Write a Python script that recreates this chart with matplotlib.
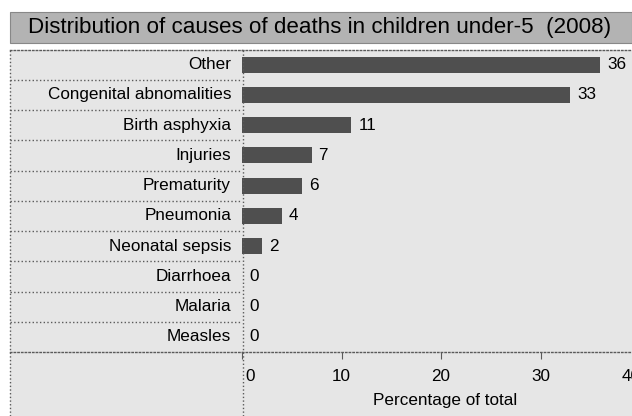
import matplotlib
matplotlib.use("Agg")
import matplotlib.pyplot as plt
import matplotlib.transforms as mtransforms
from matplotlib.patches import Rectangle
from matplotlib.lines import Line2D

causes = ["Other", "Congenital abnomalities", "Birth asphyxia", "Injuries",
          "Prematurity", "Pneumonia", "Neonatal sepsis", "Diarrhoea",
          "Malaria", "Measles"]
percent = [36, 33, 11, 7, 6, 4, 2, 0, 0, 0]
xticks = [0, 10, 20, 30, 40]

title = "Distribution of causes of deaths in children under-5  (2008)"
xlabel = "Percentage of total"

plt.rcParams['font.family'] = ['Liberation Sans', 'DejaVu Sans']

W, H = 632, 416
fig = plt.figure(figsize=(W / 100, H / 100), dpi=100)
fig.patch.set_facecolor('white')

bg = '#e6e6e6'
band = '#b3b3b3'
line_col = '#5a5a5a'
bar_col = '#4f4f4f'
fs = 12.3


def fx(px):
    return px / W


def fy(py):
    return 1 - py / H


# grey table area and title band
fig.add_artist(Rectangle((fx(10), 0), fx(W - 10), fy(49.5), transform=fig.transFigure,
                         facecolor=bg, edgecolor='none', zorder=0))
fig.add_artist(Rectangle((fx(10), fy(43)), fx(W - 10), 31 / H, transform=fig.transFigure,
                         facecolor=band, edgecolor='#888888', lw=0.8, zorder=0))
fig.text(fx(320), fy(27.5), title, ha='center', va='center', fontsize=16.1)

top, bottom = 49.5, 352
ax_h = (bottom - top) / H
ax = fig.add_axes([fx(242), fy(bottom), fx(640 - 242), ax_h])
lab = fig.add_axes([fx(10), fy(bottom), fx(242 - 10), ax_h])

n = len(causes)
pos = list(range(n))

for a in (ax, lab):
    a.set_facecolor('none')
    a.set_ylim(n - 0.5, -0.5)
    for s in ('left', 'right'):
        a.spines[s].set_visible(False)
    for s in ('top', 'bottom'):
        a.spines[s].set_color(line_col)
        a.spines[s].set_linestyle(':')
        a.spines[s].set_linewidth(1.0)
    a.set_yticks([])

# bars
ax.barh(pos, percent, height=0.53, color=bar_col, zorder=2)
for p, v in zip(pos, percent):
    ax.annotate(str(v), (v, p), xytext=(5, 0), textcoords='offset points',
                ha='left', va='center', fontsize=fs)

ax.set_xlim(0, 40)
ax.set_xticks(xticks)
ax.set_xticklabels([str(t) for t in xticks], fontsize=fs)
ax.tick_params(axis='x', direction='out', length=5, width=0.8, color=line_col, pad=7)
ax.set_xlabel(xlabel, fontsize=fs, labelpad=3)
ax.xaxis.set_label_coords(0.51, -0.135)

tl = ax.get_xticklabels()
tl[0].set_transform(tl[0].get_transform() +
                    mtransforms.ScaledTranslation(8.5 / 100, 0, fig.dpi_scale_trans))
tl[-1].set_transform(tl[-1].get_transform() +
                     mtransforms.ScaledTranslation(-9 / 100, 0, fig.dpi_scale_trans))

# label column
lab.set_xlim(0, 1)
lab.set_xticks([])
for p, c in zip(pos, causes):
    lab.text(0.953, p, c, ha='right', va='center', fontsize=fs)
for i in range(n - 1):
    lab.axhline(i + 0.5, color=line_col, ls=':', lw=1.0)

# vertical borders
for xpx in (10.5, 242.5):
    fig.add_artist(Line2D([fx(xpx), fx(xpx)], [0, fy(top)], transform=fig.transFigure,
                          color=line_col, ls=':', lw=1.0))

fig.savefig('out.png', dpi=100)
